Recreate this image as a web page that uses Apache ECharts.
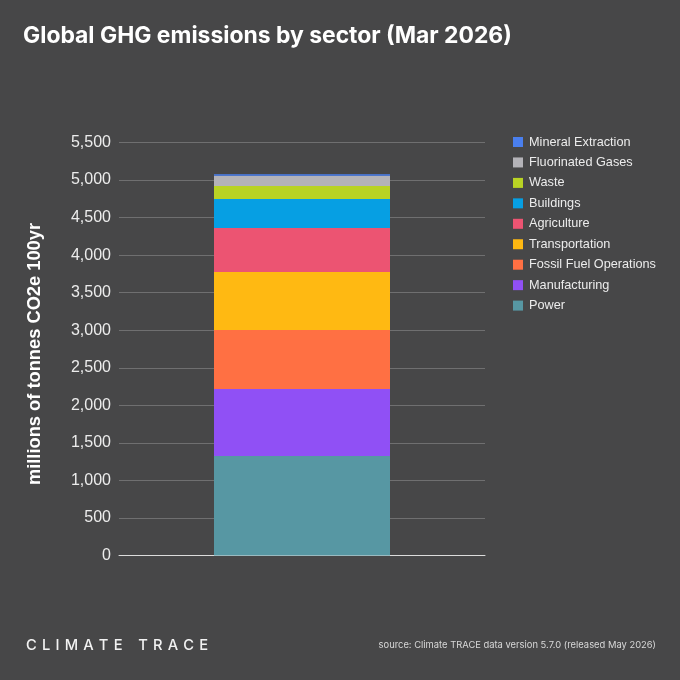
<!DOCTYPE html>
<html><head><meta charset="utf-8">
<style>html,body{margin:0;padding:0;background:#474748}#c{width:680px;height:680px}</style>
<script src="https://cdn.jsdelivr.net/npm/echarts@6/dist/echarts.min.js"></script>
</head><body><div id="c"></div>
<script>
const categories = ['Mar 2026'];
const sectors = ['Power','Manufacturing','Fossil Fuel Operations','Transportation','Agriculture','Buildings','Waste','Fluorinated Gases','Mineral Extraction'];
const values = [1325,892,786,772,586,386,173,138,18];
const colors = ['#5797a3','#9050f5','#ff7043','#ffb912','#ec5472','#069fe3','#b9d324','#b4b3b8','#4a7fee'];
const yTicks = [0,500,1000,1500,2000,2500,3000,3500,4000,4500,5000,5500];
const chart = echarts.init(document.getElementById('c'),null,{renderer:'canvas'});
const sp=' \u200a';
chart.setOption({
  animation:false,
  backgroundColor:'#474748',
  color:colors,
  title:[
    {text:'Global GHG emissions by sector (Mar 2026)',left:18,top:20,textStyle:{color:'#fff',fontFamily:'Inter',fontWeight:700,fontSize:22.9}},
    {text:'CLIMATE'.split('').join(sp)+'    '+'TRACE'.split('').join(sp),left:21,top:633,textStyle:{color:'#f2f2f2',fontFamily:'Inter',fontWeight:500,fontSize:14.7}},
    {text:'source: Climate TRACE data version 5.7.0 (released May 2026)',right:19,top:636,textStyle:{color:'#d8d8d8',fontFamily:'Inter',fontWeight:400,fontSize:9.4}}
  ],
  legend:{
    data:sectors.slice().reverse(),orient:'vertical',left:508,top:130,
    itemWidth:10,itemHeight:10,itemGap:6.45,icon:'rect',
    selectedMode:false,
    textStyle:{color:'#ececec',fontFamily:'Liberation Sans',fontSize:12.7,lineHeight:14,padding:[0,0,0,1]}
  },
  grid:{left:119,right:195,top:142.5,bottom:124.5,containLabel:false},
  xAxis:{type:'category',data:categories,
    axisLine:{show:true,lineStyle:{color:'#dcdcdc',width:1}},axisTick:{show:false},axisLabel:{show:false}},
  yAxis:{type:'value',min:yTicks[0],max:yTicks[yTicks.length-1],interval:500,
    name:'millions of tonnes CO2e 100yr',nameLocation:'middle',nameGap:75,nameRotate:90,
    nameTextStyle:{color:'#fff',fontFamily:'Liberation Sans',fontWeight:700,fontSize:18.3,padding:[0,10,0,0]},
    axisLine:{show:false},axisTick:{show:false},
    axisLabel:{color:'#ececec',fontFamily:'Liberation Sans',fontSize:16,margin:8,formatter:v=>v.toLocaleString('en-US')},
    splitLine:{show:true,lineStyle:{color:'#6f6f70',width:1}}},
  series:sectors.map((s,i)=>({name:s,type:'bar',stack:'total',barWidth:176,data:[values[i]],itemStyle:{color:colors[i]}}))
});
</script></body></html>
